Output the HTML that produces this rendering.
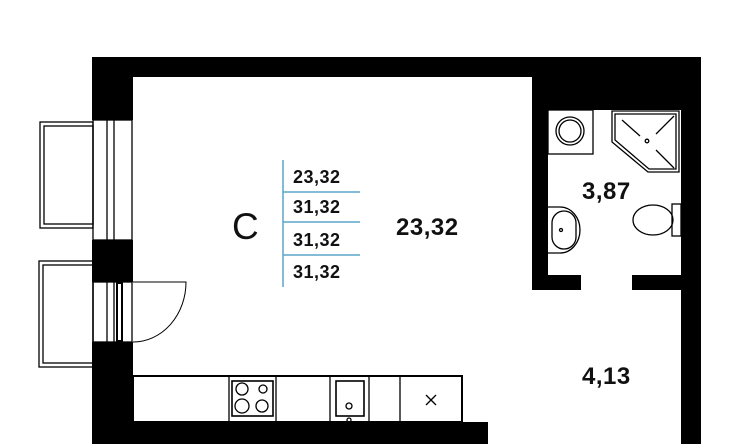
<!DOCTYPE html><html><head><style>body{margin:0;background:#fff}svg{display:block}text{font-family:"Liberation Sans",sans-serif;font-weight:bold;fill:#111}</style></head><body>
<svg width="740" height="444" viewBox="0 0 740 444" xmlns="http://www.w3.org/2000/svg">
<g fill="#000">
<rect x="92" y="57" width="609" height="20"/>
<rect x="532" y="57" width="169" height="53"/>
<rect x="92" y="57" width="41" height="63"/>
<rect x="92" y="240" width="41" height="42"/>
<rect x="92" y="342" width="41" height="102"/>
<rect x="92" y="422" width="396" height="22"/>
<rect x="532" y="57" width="16" height="233"/>
<rect x="532" y="275" width="49" height="15"/>
<rect x="632" y="275" width="50" height="15"/>
<rect x="681" y="57" width="20" height="387"/>
</g>
<g fill="none" stroke="#000" stroke-width="1.3">
<rect x="93" y="120" width="39" height="120"/>
<line x1="107" y1="120" x2="107" y2="240"/><line x1="114" y1="120" x2="114" y2="240"/>
<rect x="93" y="282" width="39" height="60"/>
<line x1="107" y1="282" x2="107" y2="342"/><line x1="114" y1="282" x2="114" y2="342"/>
<rect x="117" y="283" width="5" height="58" stroke-width="2"/>
<rect x="40" y="122" width="53" height="106"/><rect x="44" y="126" width="49" height="98"/>
<rect x="39" y="261" width="54" height="106"/><rect x="43" y="265" width="50" height="98"/>
<path d="M133 282 H186 A53 60 0 0 1 133 342" stroke-width="1"/>
<rect x="133" y="376" width="329" height="46" stroke-width="2"/>
<line x1="229" y1="376" x2="229" y2="422"/><line x1="276" y1="376" x2="276" y2="422"/>
<line x1="330" y1="376" x2="330" y2="422"/><line x1="369" y1="376" x2="369" y2="422"/><line x1="400" y1="376" x2="400" y2="422"/>
<rect x="232" y="381" width="41" height="35" stroke-width="1.6"/>
<circle cx="242" cy="389" r="6"/><circle cx="263" cy="389" r="4"/><circle cx="242" cy="406" r="7"/><circle cx="262" cy="406" r="6"/>
<rect x="336" y="381" width="28" height="35" stroke-width="1.6"/><circle cx="349" cy="406" r="3"/><circle cx="349" cy="420" r="2"/>
<path d="M426 395 L436 405 M436 395 L426 405"/>
<rect x="548" y="110" width="45" height="44"/><circle cx="570" cy="131" r="14"/><circle cx="570" cy="131" r="11"/>
<path d="M612 111 H679 V172 H648 L612 142 Z"/><path d="M615 114 H676 V169 H649 L615 140 Z"/>
<path d="M622 120 L640 136 M674 116 L656 134 M656 150 L674 168"/><circle cx="647" cy="141" r="1.8"/>
<path d="M548 207 H560 A20 23 0 0 1 560 253 H548"/><rect x="552" y="211" width="24" height="38" rx="12"/><circle cx="561" cy="230" r="1.5"/>
<ellipse cx="653" cy="220" rx="20" ry="15"/><rect x="672" y="204" width="9" height="32"/>
</g>
<line x1="283" y1="160" x2="283" y2="287" stroke="#5aa6c8" stroke-width="1.5"/>
<g stroke="#5aa6c8" stroke-width="1.5"><line x1="283" y1="192" x2="360" y2="192"/><line x1="283" y1="222" x2="360" y2="222"/><line x1="283" y1="255" x2="360" y2="255"/></g>
<text x="232" y="239" font-size="37" style="font-weight:normal">C</text>
<g font-size="18" letter-spacing="0.5"><text x="293" y="183">23,32</text><text x="293" y="213">31,32</text><text x="293" y="246">31,32</text><text x="293" y="278">31,32</text></g>
<g font-size="24" letter-spacing="0.5"><text x="396" y="235">23,32</text><text x="582" y="199">3,87</text><text x="582" y="384">4,13</text></g>
</svg></body></html>
